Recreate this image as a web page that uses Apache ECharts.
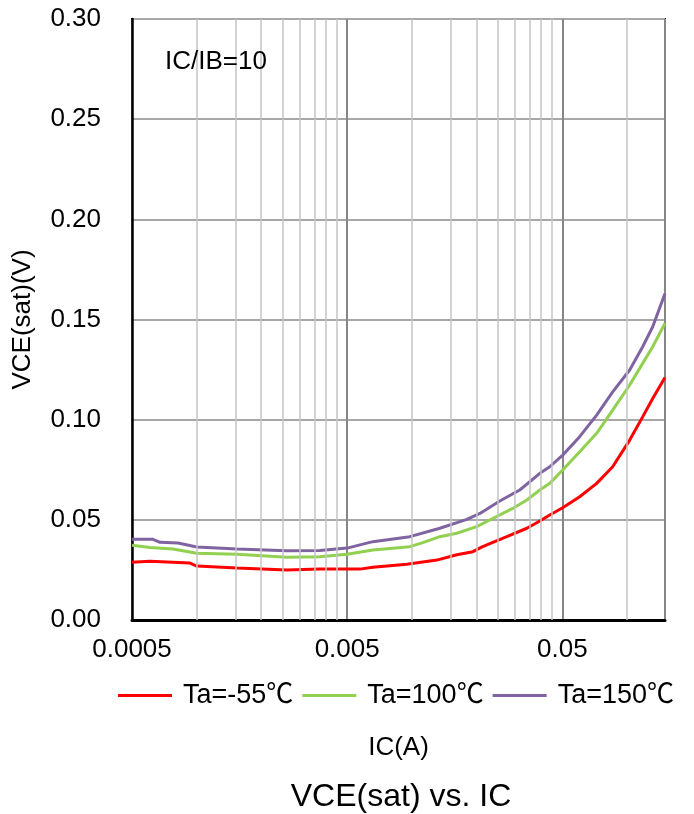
<!DOCTYPE html>
<html>
<head>
<meta charset="utf-8">
<script src="https://cdn.jsdelivr.net/npm/echarts@6/dist/echarts.min.js"></script>
<style>
  html, body { margin: 0; padding: 0; background: #fff; }
  #chart { width: 694px; height: 814px; }
</style>
</head>
<body>
<div id="chart"></div>
<script>
// ---- data (IC in A, VCE(sat) in V) ----
const IC_MIN = 0.0005;
const IC_MAX = 0.15;

const icRed = [0.0005, 0.000606, 0.00093, 0.001, 0.00154, 0.00262, 0.00373, 0.00573, 0.00658, 0.00947, 0.01305, 0.01616, 0.0192, 0.0213, 0.0276, 0.0342, 0.0393, 0.0437, 0.0502, 0.0602, 0.0722, 0.0857, 0.1028, 0.1181, 0.1315, 0.15];
const vRed  = [0.0288, 0.0293, 0.0284, 0.0269, 0.0259, 0.0250, 0.0254, 0.0254, 0.0263, 0.0278, 0.0299, 0.0326, 0.0341, 0.0366, 0.0416, 0.0458, 0.0494, 0.0524, 0.0560, 0.0615, 0.0682, 0.0765, 0.0898, 0.1014, 0.1106, 0.1211];

const icGreen = [0.0005, 0.000606, 0.000775, 0.001, 0.00154, 0.00262, 0.00373, 0.005, 0.00658, 0.00978, 0.01124, 0.01348, 0.01616, 0.0200, 0.0230, 0.0294, 0.0342, 0.0393, 0.0437, 0.0502, 0.0602, 0.0722, 0.0857, 0.1028, 0.1181, 0.1315, 0.15];
const vGreen  = [0.0373, 0.0362, 0.0354, 0.0333, 0.0328, 0.0313, 0.0316, 0.0328, 0.0349, 0.0366, 0.0386, 0.0416, 0.0433, 0.0466, 0.0499, 0.0557, 0.0599, 0.0649, 0.0682, 0.0749, 0.0840, 0.0932, 0.1048, 0.1173, 0.1281, 0.1364, 0.1481];

const icPurple = [0.0005, 0.000626, 0.000675, 0.000818, 0.001, 0.00154, 0.00262, 0.00373, 0.005, 0.00658, 0.00978, 0.01348, 0.0180, 0.0207, 0.0256, 0.0317, 0.0393, 0.0437, 0.0502, 0.0602, 0.0722, 0.0857, 0.1028, 0.1181, 0.1315, 0.15];
const vPurple  = [0.0403, 0.0403, 0.0388, 0.0384, 0.0364, 0.0354, 0.0346, 0.0347, 0.0359, 0.0391, 0.0416, 0.0458, 0.0502, 0.0532, 0.0594, 0.0649, 0.0732, 0.0765, 0.0823, 0.0915, 0.1023, 0.1139, 0.1248, 0.1364, 0.1464, 0.1630];

const seriesNames = ['Ta=-55℃', 'Ta=100℃', 'Ta=150℃'];
const xTickValues = [0.0005, 0.005, 0.05];
const xTickLabels = ['0.0005', '0.005', '0.05'];
const xMinorMultipliers = [2, 3, 4, 5, 6, 7, 8, 9];
const yMin = 0, yMax = 0.30, yStep = 0.05;

// ---- helpers: log scale built on a value axis (decades from IC_MIN) ----
const toX = ic => Math.log10(ic / IC_MIN);
const pairs = (xs, ys) => xs.map((x, i) => [toX(x), ys[i]]);
const xMaxT = toX(IC_MAX);

const minorLines = [];
xTickValues.forEach(base => {
  xMinorMultipliers.forEach(m => {
    const t = toX(base * m);
    if (t < xMaxT - 1e-6) minorLines.push({ xAxis: t });
  });
});

const FONT = "'Liberation Sans', 'Noto Sans CJK JP', Arial, sans-serif";

const chart = echarts.init(document.getElementById('chart'), null, { renderer: 'canvas' });
chart.setOption({
  animation: false,
  backgroundColor: '#fff',
  title: {
    text: 'VCE(sat) vs. IC',
    left: 401, textAlign: 'center', top: 781, padding: 0,
    textStyle: { fontFamily: FONT, fontSize: 32, fontWeight: 'normal', color: '#000' }
  },
  graphic: [{
    type: 'text', left: 165, top: 49,
    style: { text: 'IC/IB=10', font: "26px 'Liberation Sans', Arial, sans-serif", fill: '#000' },
    z: 10
  }],
  legend: {
    data: seriesNames,
    left: 118, top: 682, padding: 0,
    icon: 'rect', itemWidth: 54, itemHeight: 3, itemGap: 9,
    textStyle: { fontFamily: FONT, fontSize: 27, color: '#000', padding: [0, 0, 0, 6] }
  },
  grid: {
    left: 132, top: 19, width: 533, height: 601,
    show: true, borderColor: '#000', borderWidth: 2,
    outerBoundsMode: 'none', containLabel: false
  },
  xAxis: {
    type: 'value', min: 0, max: xMaxT, interval: 1,
    name: 'IC(A)', nameLocation: 'middle', nameGap: 115,
    nameTextStyle: { fontFamily: FONT, fontSize: 26, color: '#000' },
    axisLine: { show: true, lineStyle: { color: '#000', width: 3 } },
    axisTick: { show: false },
    axisLabel: {
      margin: 17, fontFamily: FONT, fontSize: 26, color: '#000', showMaxLabel: false,
      formatter: v => {
        const i = xTickValues.findIndex(t => Math.abs(toX(t) - v) < 1e-6);
        return i >= 0 ? xTickLabels[i] : '';
      }
    },
    splitLine: { show: true, lineStyle: { color: '#868686', width: 2 } }
  },
  yAxis: {
    type: 'value', min: yMin, max: yMax, interval: yStep,
    name: 'VCE(sat)(V)', nameLocation: 'middle', nameGap: 96,
    nameTextStyle: { fontFamily: FONT, fontSize: 26, color: '#000' },
    axisLine: { show: true, lineStyle: { color: '#000', width: 2.5 } },
    axisTick: { show: false },
    axisLabel: { margin: 31, fontFamily: FONT, fontSize: 26, color: '#000', formatter: v => v.toFixed(2) },
    splitLine: { show: true, lineStyle: { color: '#a8a8a8', width: 2 } }
  },
  series: [
    {
      name: 'grid-minor', type: 'line', data: [], z: 1, silent: true,
      markLine: {
        silent: true, symbol: ['none', 'none'], label: { show: false },
        lineStyle: { color: '#c4c4c4', type: 'solid', width: 1.5 },
        emphasis: { disabled: true },
        data: minorLines
      }
    },
    { name: seriesNames[0], type: 'line', z: 3, showSymbol: false, data: pairs(icRed, vRed), color: '#ff0000', lineStyle: { width: 3, color: '#ff0000' } },
    { name: seriesNames[1], type: 'line', z: 3, showSymbol: false, data: pairs(icGreen, vGreen), color: '#92d050', lineStyle: { width: 3, color: '#92d050' } },
    { name: seriesNames[2], type: 'line', z: 3, showSymbol: false, data: pairs(icPurple, vPurple), color: '#8064a2', lineStyle: { width: 3, color: '#8064a2' } }
  ]
});
</script>
</body>
</html>
